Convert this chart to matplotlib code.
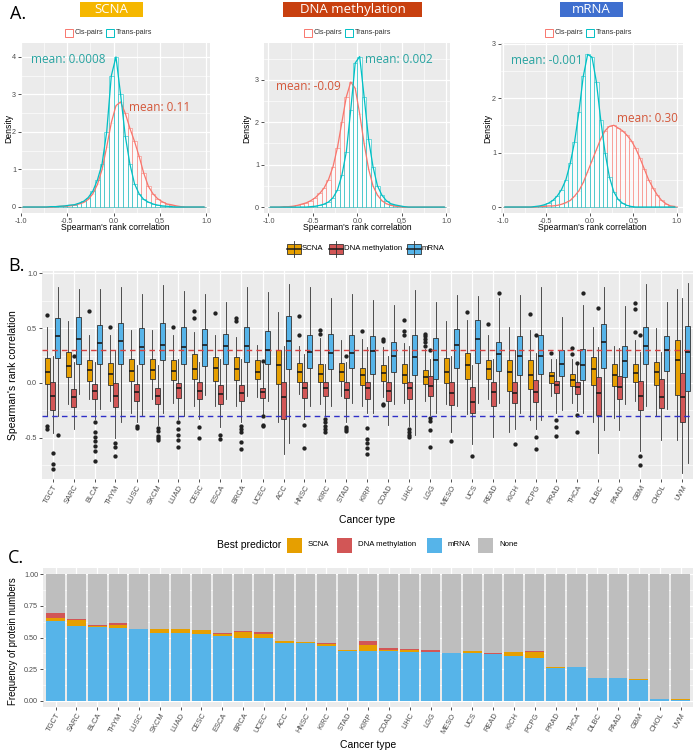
import matplotlib
matplotlib.use("Agg")
import matplotlib.pyplot as plt
import numpy as np
from matplotlib.patches import Rectangle
from matplotlib.lines import Line2D
from matplotlib.ticker import MultipleLocator

W, H = 696, 752
plt.rcParams['font.family'] = ['Liberation Sans', 'DejaVu Sans']
CAL = ['Open Sans', 'DejaVu Sans']

# ---------------- data ----------------
bin_centers = np.arange(-0.975, 1.0, 0.05)

scna_cis = [0, 0, 0, 0, 0, 0, 0, 0.01, 0.02, 0.02, 0.03, 0.05, 0.08, 0.12, 0.2, 0.35, 0.6, 1.0, 1.6, 2.25,
            2.7, 2.8, 2.5, 2.1, 1.75, 1.35, 0.9, 0.55, 0.35, 0.22, 0.14, 0.08, 0.06, 0.03, 0.01, 0, 0, 0, 0, 0]
scna_trans = [0, 0, 0, 0, 0, 0, 0.01, 0.01, 0.02, 0.03, 0.05, 0.06, 0.1, 0.15, 0.25, 0.42, 0.72, 1.15, 2.0, 3.5,
              4.0, 3.0, 1.9, 1.15, 0.62, 0.35, 0.2, 0.13, 0.08, 0.05, 0.03, 0.02, 0.01, 0, 0, 0, 0, 0, 0, 0]
meth_cis = [0, 0, 0, 0.01, 0.01, 0.02, 0.04, 0.07, 0.1, 0.15, 0.22, 0.32, 0.45, 0.65, 0.95, 1.4, 2.0, 2.6, 2.95, 2.8,
            2.2, 1.5, 0.9, 0.5, 0.28, 0.15, 0.08, 0.04, 0.02, 0.01, 0, 0, 0, 0, 0, 0, 0, 0, 0, 0]
meth_trans = [0, 0, 0, 0, 0, 0, 0, 0, 0, 0.01, 0.02, 0.04, 0.07, 0.12, 0.22, 0.4, 0.75, 1.3, 2.3, 3.4,
              3.55, 2.6, 1.6, 0.95, 0.5, 0.28, 0.15, 0.08, 0.05, 0.03, 0.01, 0, 0, 0, 0, 0, 0, 0, 0, 0]
mrna_cis = [0, 0, 0, 0, 0, 0, 0, 0, 0.01, 0.01, 0.02, 0.02, 0.03, 0.05, 0.08, 0.12, 0.2, 0.3, 0.45, 0.65,
            0.85, 1.05, 1.25, 1.4, 1.48, 1.5, 1.45, 1.4, 1.32, 1.22, 1.08, 0.9, 0.7, 0.5, 0.35, 0.22, 0.12, 0.06, 0.02, 0.01]
mrna_trans = [0, 0, 0, 0, 0, 0, 0, 0.01, 0.02, 0.04, 0.07, 0.12, 0.2, 0.32, 0.5, 0.8, 1.2, 1.75, 2.4, 2.8,
              2.75, 2.3, 1.6, 1.0, 0.55, 0.28, 0.14, 0.07, 0.03, 0.01, 0, 0, 0, 0, 0, 0, 0, 0, 0, 0]

cis_means = ['0.11', '-0.09', '0.30']
trans_means = ['0.0008', '0.002', '-0.001']

cancers = ['TGCT', 'SARC', 'BLCA', 'THYM', 'LUSC', 'SKCM', 'LUAD', 'CESC', 'ESCA', 'BRCA', 'UCEC',
           'ACC', 'HNSC', 'KIRC', 'STAD', 'KIRP', 'COAD', 'LIHC', 'LGG', 'MESO', 'UCS', 'READ',
           'KICH', 'PCPG', 'PRAD', 'THCA', 'DLBC', 'PAAD', 'GBM', 'CHOL', 'UVM']

# box stats: whisker low, q1, median, q3, whisker high
scna_lo = [-0.30, -0.19, -0.15, -0.16, -0.27, -0.15, -0.18, -0.21, -0.21, -0.21, -0.13, -0.36, -0.10, -0.19, -0.12, -0.21,
           -0.13, -0.18, -0.16, -0.19, -0.28, -0.15, -0.45, -0.34, -0.12, -0.18, -0.36, -0.32, -0.16, -0.30, -0.52]
scna_q1 = [-0.01, 0.05, 0.02, -0.02, 0.02, 0.04, 0.03, 0.04, 0.015, 0.03, 0.04, -0.01, 0.01, 0.006, 0.02, -0.02,
           0.02, 0.0, -0.01, 0.0, 0.04, 0.04, -0.07, -0.055, 0.0, -0.03, -0.02, -0.03, 0.006, -0.015, -0.11]
scna_med = [0.10, 0.15, 0.12, 0.08, 0.11, 0.12, 0.11, 0.13, 0.14, 0.13, 0.10, 0.16, 0.10, 0.08, 0.10, 0.07,
            0.09, 0.07, 0.05, 0.10, 0.16, 0.13, 0.10, 0.07, 0.06, 0.03, 0.13, 0.07, 0.09, 0.10, 0.21]
scna_q3 = [0.23, 0.28, 0.21, 0.18, 0.22, 0.22, 0.21, 0.26, 0.24, 0.24, 0.21, 0.30, 0.18, 0.17, 0.18, 0.14,
           0.16, 0.17, 0.12, 0.23, 0.27, 0.21, 0.21, 0.21, 0.10, 0.08, 0.24, 0.17, 0.17, 0.19, 0.39]
scna_hi = [0.51, 0.56, 0.44, 0.44, 0.48, 0.48, 0.44, 0.46, 0.44, 0.42, 0.35, 0.65, 0.34, 0.41, 0.39, 0.40,
           0.33, 0.36, 0.31, 0.56, 0.57, 0.44, 0.51, 0.48, 0.22, 0.22, 0.51, 0.34, 0.39, 0.50, 0.86]
scna_out = [[0.62, -0.39, -0.42], [], [0.66], [0.51], [], [], [0.51], [0.66, 0.59], [0.64], [0.59, 0.56], [],
            [], [0.61, 0.44], [0.48, 0.45], [], [0.47], [0.40, 0.38, -0.19, -0.20], [0.57, 0.47, 0.44],
            [0.45, 0.43, 0.40, 0.37, 0.34], [], [0.65], [0.54], [], [0.63], [0.27], [0.32, 0.26], [], [],
            [0.73, 0.67, 0.46], [], []]

meth_lo = [-0.46, -0.42, -0.33, -0.50, -0.36, -0.38, -0.33, -0.33, -0.40, -0.36, -0.28, -0.65, -0.33, -0.30, -0.36, -0.27,
           -0.38, -0.39, -0.29, -0.45, -0.56, -0.49, -0.42, -0.42, -0.27, -0.26, -0.64, -0.43, -0.62, -0.52, -0.82]
meth_q1 = [-0.25, -0.215, -0.15, -0.22, -0.16, -0.19, -0.14, -0.15, -0.19, -0.16, -0.14, -0.33, -0.14, -0.12, -0.14, -0.15,
           -0.16, -0.15, -0.12, -0.20, -0.27, -0.21, -0.18, -0.17, -0.095, -0.10, -0.29, -0.15, -0.25, -0.23, -0.36]
meth_med = [-0.12, -0.13, -0.07, -0.12, -0.08, -0.12, -0.05, -0.07, -0.10, -0.09, -0.08, -0.13, -0.05, -0.05, -0.06, -0.05,
            -0.07, -0.05, -0.03, -0.09, -0.17, -0.08, -0.09, -0.08, -0.015, -0.04, -0.09, -0.04, -0.12, -0.13, -0.13]
meth_q3 = [0.01, -0.055, -0.01, 0.0, -0.01, -0.05, 0.0, 0.01, -0.015, -0.02, -0.05, 0.006, 0.006, 0.01, 0.006, 0.006,
           0.006, 0.01, 0.06, 0.01, -0.04, 0.006, 0.006, 0.03, 0.02, 0.006, 0.05, 0.06, 0.015, 0.04, 0.09]
meth_hi = [0.25, 0.19, 0.19, 0.29, 0.16, 0.16, 0.22, 0.19, 0.22, 0.22, 0.17, 0.34, 0.26, 0.17, 0.19, 0.33,
           0.25, 0.34, 0.22, 0.25, 0.16, 0.22, 0.30, 0.27, 0.22, 0.16, 0.33, 0.32, 0.28, 0.28, 0.77]
meth_out = [[-0.64, -0.74, -0.78], [0.25], [-0.36, -0.45, -0.49, -0.53, -0.57, -0.62, -0.71], [-0.55, -0.58, -0.67],
            [-0.39, -0.41], [-0.41, -0.44, -0.48, -0.50, -0.52], [-0.36, -0.42, -0.47, -0.52, -0.58], [-0.40, -0.50],
            [-0.47, -0.51], [-0.39, -0.42, -0.45, -0.54, -0.60], [0.20, -0.30, -0.38, -0.39], [], [-0.38, -0.59],
            [-0.33, -0.36, -0.39, -0.42, -0.45], [0.25, -0.40, -0.42, -0.44], [-0.41, -0.51, -0.55, -0.59, -0.65],
            [], [-0.42, -0.45, -0.47, -0.49], [0.30, -0.32, -0.35, -0.43, -0.58], [-0.53], [-0.67], [], [-0.56],
            [0.44, -0.49, -0.60], [-0.34, -0.40, -0.48], [0.18, -0.29, -0.45], [0.68], [], [0.44, -0.67, -0.75],
            [], []]

mrna_lo = [-0.30, -0.10, -0.24, -0.36, -0.30, -0.27, -0.30, -0.11, -0.15, -0.12, -0.16, -0.55, -0.21, -0.21, -0.18, -0.27,
           -0.19, -0.47, -0.27, -0.21, -0.18, -0.18, -0.27, -0.34, -0.25, -0.27, -0.43, -0.19, -0.21, -0.24, -0.73]
mrna_q1 = [0.23, 0.17, 0.17, 0.17, 0.17, 0.21, 0.17, 0.15, 0.17, 0.19, 0.17, 0.13, 0.14, 0.13, 0.14, 0.08,
           0.10, 0.07, 0.04, 0.14, 0.18, 0.11, 0.07, 0.08, 0.06, 0.03, 0.14, 0.05, 0.17, 0.11, -0.07]
mrna_med = [0.43, 0.40, 0.36, 0.38, 0.33, 0.35, 0.33, 0.35, 0.34, 0.34, 0.30, 0.38, 0.28, 0.27, 0.27, 0.29,
            0.25, 0.24, 0.21, 0.35, 0.40, 0.26, 0.25, 0.25, 0.17, 0.16, 0.37, 0.20, 0.34, 0.30, 0.28]
mrna_q3 = [0.59, 0.60, 0.53, 0.55, 0.50, 0.55, 0.51, 0.49, 0.45, 0.51, 0.47, 0.61, 0.44, 0.45, 0.44, 0.43,
           0.37, 0.44, 0.41, 0.49, 0.57, 0.37, 0.43, 0.44, 0.30, 0.31, 0.54, 0.34, 0.51, 0.43, 0.52]
mrna_hi = [0.87, 0.86, 0.86, 0.87, 0.81, 0.89, 0.84, 0.81, 0.74, 0.87, 0.83, 0.90, 0.87, 0.77, 0.81, 0.76,
           0.71, 0.85, 0.74, 0.80, 0.79, 0.77, 0.80, 0.87, 0.60, 0.71, 0.87, 0.70, 0.90, 0.74, 0.91]
mrna_out = [[-0.47]] + [[] for _ in range(20)] + [[0.82]] + [[], [], [], [0.82]] + [[] for _ in range(5)]

# panel C: fraction of proteins by best predictor
frac_mrna = [0.63, 0.59, 0.58, 0.575, 0.567, 0.535, 0.532, 0.53, 0.515, 0.50, 0.50, 0.455, 0.455, 0.435, 0.395, 0.39,
             0.395, 0.387, 0.382, 0.374, 0.374, 0.368, 0.355, 0.334, 0.26, 0.266, 0.18, 0.176, 0.163, 0.016, 0.005]
frac_scna = [0.025, 0.05, 0.01, 0.02, 0.004, 0.032, 0.033, 0.03, 0.015, 0.047, 0.03, 0.015, 0.008, 0.015, 0.005, 0.047,
             0.01, 0.013, 0.003, 0.005, 0.02, 0.005, 0.027, 0.05, 0.003, 0, 0, 0, 0.008, 0, 0.01]
frac_meth = [0.035, 0.008, 0.005, 0.02, 0, 0.002, 0.002, 0, 0.003, 0.003, 0.012, 0.003, 0.003, 0.007, 0.005, 0.037,
             0.01, 0.01, 0.02, 0, 0, 0.008, 0.003, 0.013, 0.005, 0, 0, 0, 0, 0, 0]

C_SCNA, C_METH, C_MRNA, C_NONE = '#E69F00', '#D25656', '#56B4E9', '#BEBEBE'
C_CIS, C_TRANS = '#F8766D', '#00BFC4'
TICK_C = '#4D4D4D'

# ---------------- helpers ----------------
fig = plt.figure(figsize=(W / 100, H / 100), dpi=100)


def fx(x):
    return x / W


def fy(y):
    return 1 - y / H


def axes_px(l, t, r, b):
    return fig.add_axes([fx(l), fy(b), (r - l) / W, (b - t) / H])


def gg_style(ax, minor_x=None, minor_y=None):
    ax.set_facecolor('#EBEBEB')
    ax.set_axisbelow(True)
    for s in ax.spines.values():
        s.set_visible(False)
    ax.grid(True, which='major', color='white', lw=0.9)
    if minor_x:
        ax.xaxis.set_minor_locator(MultipleLocator(minor_x))
    if minor_y:
        ax.yaxis.set_minor_locator(MultipleLocator(minor_y))
    ax.grid(True, which='minor', color='white', lw=0.45)
    ax.tick_params(which='major', length=2, width=0.6, color='#333333',
                   labelsize=5.2, labelcolor=TICK_C, pad=1.5)
    ax.tick_params(which='minor', length=0)


# ---------------- panel A ----------------
fig.text(fx(10), fy(14), 'A.', family=CAL, fontsize=13, va='center', ha='left')

titles = [('SCNA', 80, 143, '#F5B700'), ('DNA methylation', 283, 422, '#C8400F'), ('mRNA', 560, 623, '#3F6FCF')]
for label, l, r, col in titles:
    fig.add_artist(Rectangle((fx(l), fy(17)), (r - l) / W, 15 / H, facecolor=col, edgecolor='none'))
    fig.text(fx((l + r) / 2), fy(9.5), label, color='white', family=CAL, fontsize=9.5,
             ha='center', va='center')

hist_sets = [(scna_cis, scna_trans), (meth_cis, meth_trans), (mrna_cis, mrna_trans)]
a_boxes = [(21, 210, (-1.0, 1.04), (-0.16, 4.37), [0, 1, 2, 3, 4]),
           (264, 450, (-1.05, 1.04), (-0.14, 3.87), [0, 1, 2, 3]),
           (501, 683, (-1.02, 1.07), (-0.11, 3.01), [0, 1, 2, 3])]
legend_x = [65, 304, 545]
ylabel_x = [9, 247, 488]
cis_pos = [(0.17, 2.64), (-0.92, 2.84), (0.31, 1.63)]
trans_pos = [(-0.89, 3.92), (0.08, 3.47), (-0.90, 2.69)]

for k, ((cis, trans), (l, r, xl, yl, yt)) in enumerate(zip(hist_sets, a_boxes)):
    ax = axes_px(l, 43, r, 213)
    gg_style(ax, minor_x=0.25, minor_y=0.5)
    ax.bar(bin_centers, cis, width=0.05, facecolor=(1, 1, 1, 0.35), edgecolor=C_CIS, lw=0.5, alpha=0.75)
    ax.bar(bin_centers, trans, width=0.05, facecolor=(1, 1, 1, 0.35), edgecolor=C_TRANS, lw=0.5, alpha=0.75)
    ax.plot(bin_centers, cis, color=C_CIS, lw=0.9)
    ax.plot(bin_centers, trans, color=C_TRANS, lw=0.9)
    ax.set_xlim(*xl)
    ax.set_ylim(*yl)
    ax.set_xticks([-1.0, -0.5, 0.0, 0.5, 1.0])
    ax.set_xticklabels(['-1.0', '-0.5', '0.0', '0.5', '1.0'])
    ax.set_yticks(yt)
    ax.text(cis_pos[k][0], cis_pos[k][1], 'mean: ' + cis_means[k], color='#D4573A',
            family=CAL, fontsize=8.5, ha='left', va='center')
    ax.text(trans_pos[k][0], trans_pos[k][1], 'mean: ' + trans_means[k], color='#27A3A0',
            family=CAL, fontsize=8.5, ha='left', va='center')
    # axis titles
    fig.text(fx(ylabel_x[k]), fy(128), 'Density', rotation=90, fontsize=6.2, ha='center', va='center')
    fig.text(fx((l + r) / 2), fy(228), "Spearman's rank correlation", fontsize=6.2, ha='center', va='center')
    # legend
    x0 = legend_x[k]
    for dx, col, lab in [(0, C_CIS, 'Cis-pairs'), (41, C_TRANS, 'Trans-pairs')]:
        fig.add_artist(Rectangle((fx(x0 + dx), fy(37)), 8 / W, 8 / H, facecolor='white',
                                 edgecolor=col, lw=0.7))
        fig.text(fx(x0 + dx + 10), fy(33), lab, fontsize=5.2, color='#333333', ha='left', va='center')

# ---------------- panel B ----------------
fig.text(fx(8), fy(266), 'B.', family=CAL, fontsize=13, va='center', ha='left')

axB = axes_px(42, 271, 693, 479)
gg_style(axB, minor_y=0.25)
x = np.arange(len(cancers))
groups = [(scna_lo, scna_q1, scna_med, scna_q3, scna_hi, scna_out, C_SCNA, -0.25),
          (meth_lo, meth_q1, meth_med, meth_q3, meth_hi, meth_out, C_METH, 0.0),
          (mrna_lo, mrna_q1, mrna_med, mrna_q3, mrna_hi, mrna_out, C_MRNA, 0.25)]
for lo, q1, med, q3, hi, out, col, off in groups:
    stats = [dict(whislo=lo[i], q1=q1[i], med=med[i], q3=q3[i], whishi=hi[i], fliers=out[i])
             for i in range(len(cancers))]
    axB.bxp(stats, positions=x + off, widths=0.22, patch_artist=True, showcaps=False,
            boxprops=dict(facecolor=col, edgecolor='#333333', lw=0.6),
            medianprops=dict(color='#1A1A1A', lw=1.2),
            whiskerprops=dict(color='#333333', lw=0.6),
            flierprops=dict(marker='o', markerfacecolor='#222222', markeredgecolor='none', markersize=3.1))
axB.axhline(0.3, color='#D84040', lw=1.0, ls=(0, (4, 3)))
axB.axhline(-0.3, color='#3030C8', lw=1.0, ls=(0, (4, 3)))
axB.set_xlim(-0.5, len(cancers) - 0.5)
axB.set_ylim(-0.875, 1.02)
axB.set_yticks([-0.5, 0.0, 0.5, 1.0])
axB.set_yticklabels(['-0.5', '0.0', '0.5', '1.0'])
axB.set_xticks(x)
axB.set_xticklabels(cancers, rotation=60, ha='right', va='top', rotation_mode='anchor')
axB.tick_params(axis='x', labelsize=5.4)
fig.text(fx(13), fy(375), "Spearman's rank correlation", rotation=90, fontsize=7.5, ha='center', va='center')
fig.text(fx(367), fy(520), 'Cancer type', fontsize=7.5, ha='center', va='center')

# legend B (boxplot keys)
for kx, tx, col, lab in [(287, 302, C_SCNA, 'SCNA'), (329, 344, C_METH, 'DNA methylation'),
                         (407, 422, C_MRNA, 'mRNA')]:
    fig.add_artist(Line2D([fx(kx + 7)] * 2, [fy(241), fy(257)], color='#333333', lw=0.6))
    fig.add_artist(Rectangle((fx(kx), fy(254)), 14 / W, 10 / H, facecolor=col, edgecolor='#333333', lw=0.6))
    fig.add_artist(Line2D([fx(kx), fx(kx + 14)], [fy(249)] * 2, color='#1A1A1A', lw=1.1))
    fig.text(fx(tx), fy(249), lab, fontsize=5.6, ha='left', va='center')

# ---------------- panel C ----------------
fig.text(fx(8), fy(558), 'C.', family=CAL, fontsize=13, va='center', ha='left')

axC = axes_px(43, 568, 693, 707)
gg_style(axC, minor_y=0.125)
m = np.array(frac_mrna)
s = np.array(frac_scna)
d = np.array(frac_meth)
none = 1 - (m + s + d)
axC.bar(x, m, width=0.9, color=C_MRNA)
axC.bar(x, s, width=0.9, bottom=m, color=C_SCNA)
axC.bar(x, d, width=0.9, bottom=m + s, color=C_METH)
axC.bar(x, none, width=0.9, bottom=m + s + d, color=C_NONE)
axC.set_xlim(-0.6, len(cancers) - 0.4)
axC.set_ylim(-0.05, 1.05)
axC.set_yticks([0, 0.25, 0.5, 0.75, 1.0])
axC.set_yticklabels(['0.00', '0.25', '0.50', '0.75', '1.00'])
axC.set_xticks(x)
axC.set_xticklabels(cancers, rotation=60, ha='right', va='top', rotation_mode='anchor')
axC.tick_params(axis='x', labelsize=5.4)
fig.text(fx(13), fy(641), 'Frequency of protein numbers', rotation=90, fontsize=6.9, ha='center', va='center')
fig.text(fx(368), fy(745), 'Cancer type', fontsize=7.5, ha='center', va='center')

# legend C
fig.text(fx(281), fy(545), 'Best predictor', fontsize=7.5, ha='right', va='center')
for kx, col, lab in [(287, C_SCNA, 'SCNA'), (337, C_METH, 'DNA methylation'),
                     (427, C_MRNA, 'mRNA'), (478, C_NONE, 'None')]:
    fig.add_artist(Rectangle((fx(kx), fy(553)), 15 / W, 15 / H, facecolor=col, edgecolor='none'))
    fig.text(fx(kx + 21), fy(545), lab, fontsize=5.6, ha='left', va='center')

fig.savefig('out.png', dpi=100)
